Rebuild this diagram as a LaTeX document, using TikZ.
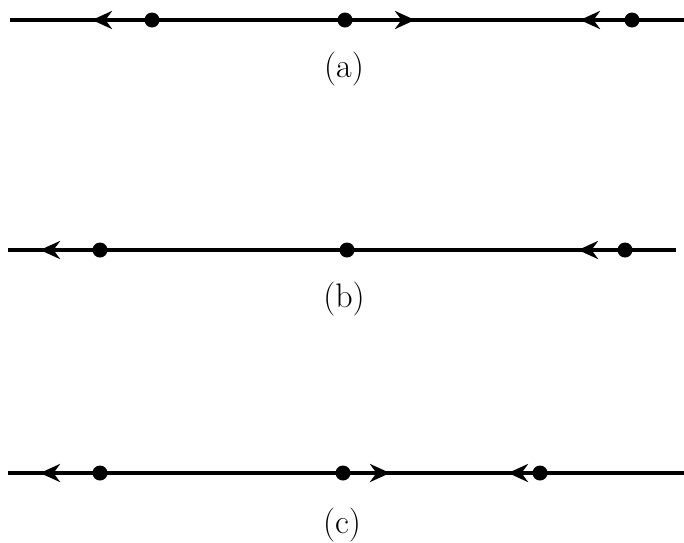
\documentclass[tikz,border=0pt]{standalone}
\usetikzlibrary{arrows.meta}
\begin{document}
\begin{tikzpicture}[x=1pt,y=-1pt,
  axisline/.style={line width=4.5pt,black},
  charge/.style={circle,fill=black,inner sep=0pt,minimum size=15pt},
  force/.style={line width=4.5pt,-{Stealth[length=20pt,width=18pt]}},
  lbl/.style={font=\fontsize{34}{40}\selectfont,inner sep=0pt}]
\useasboundingbox (0,0) rectangle (684,542);
% ---------- (a) ----------
\coordinate (a0) at (10,20);
\coordinate (a1) at (684,20);
\draw[axisline] (a0) -- (a1);
\node[charge] (aq1) at (152,20) {};
\node[charge] (aq2) at (345,20) {};
\node[charge] (aq3) at (632,20) {};
\coordinate (at1) at (92,20);
\coordinate (at2) at (415,20);
\coordinate (at3) at (580,20);
\draw[force] (aq1) -- (at1);
\draw[force] (aq2) -- (at2);
\draw[force] (aq3) -- (at3);
\node[lbl] (la) at (344,69) {(a)};
% ---------- (b) ----------
\coordinate (b0) at (8,250);
\coordinate (b1) at (676,250);
\draw[axisline] (b0) -- (b1);
\node[charge] (bq1) at (100,250) {};
\node[charge] (bq2) at (347,250) {};
\node[charge] (bq3) at (625,250) {};
\coordinate (bt1) at (40,250);
\coordinate (bt3) at (578,250);
\draw[force] (bq1) -- (bt1);
\draw[force] (bq3) -- (bt3);
\node[lbl] (lb) at (344,299) {(b)};
% ---------- (c) ----------
\coordinate (c0) at (8,473);
\coordinate (c1) at (684,473);
\draw[axisline,line width=4pt] (c0) -- (c1);
\node[charge] (cq1) at (100,473) {};
\node[charge] (cq2) at (343,473) {};
\node[charge] (cq3) at (540,473) {};
\coordinate (ct1) at (40,473);
\coordinate (ct2) at (390,473);
\coordinate (ct3) at (508,473);
\draw[force] (cq1) -- (ct1);
\draw[force] (cq2) -- (ct2);
\draw[force] (cq3) -- (ct3);
\node[lbl] (lc) at (342,525) {(c)};
\end{tikzpicture}
\end{document}
